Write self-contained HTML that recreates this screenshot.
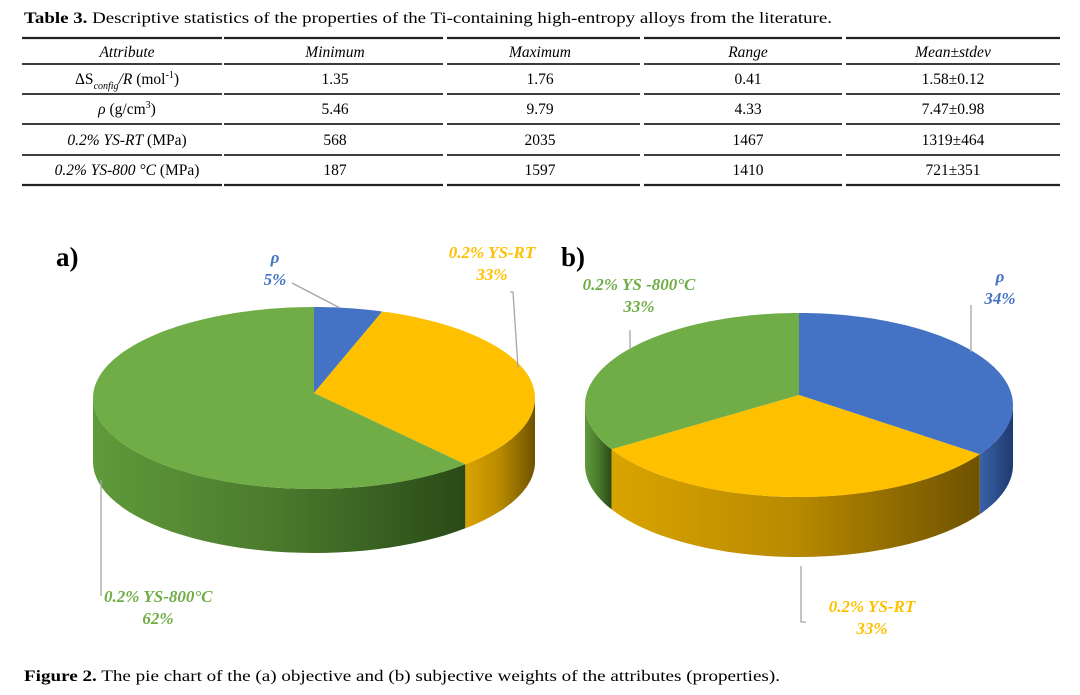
<!DOCTYPE html>
<html><head><meta charset="utf-8">
<style>
html,body{margin:0;padding:0;background:#fff;}
svg{display:block;font-family:"Liberation Serif",serif;}
</style></head>
<body>
<svg id="fig" width="1080" height="695" viewBox="0 0 1080 695" xmlns="http://www.w3.org/2000/svg">
<defs>
 <linearGradient id="gGreen" x1="0" x2="1" y1="0" y2="0"><stop offset="0" stop-color="#5f9a3b"/><stop offset="0.5" stop-color="#4a7a2c"/><stop offset="1" stop-color="#2a4a17"/></linearGradient>
 <linearGradient id="gYellow" x1="0" x2="1" y1="0" y2="0"><stop offset="0" stop-color="#d9a400"/><stop offset="0.5" stop-color="#b88a00"/><stop offset="1" stop-color="#6e5200"/></linearGradient>
 <linearGradient id="gBlue" x1="0" x2="1" y1="0" y2="0"><stop offset="0" stop-color="#3a62a8"/><stop offset="1" stop-color="#1f3a6e"/></linearGradient>
</defs>
<text x="24" y="23" font-size="15.5" textLength="808" lengthAdjust="spacingAndGlyphs"><tspan font-weight="bold">Table 3.</tspan> Descriptive statistics of the properties of the Ti-containing high-entropy alloys from the literature.</text>
<g id="table"></g>
<g id="pieA"></g>
<g id="pieB"></g>
<text x="56" y="266" font-size="27" font-weight="bold">a)</text>
<text x="561" y="266" font-size="27" font-weight="bold">b)</text>
<text x="24" y="681" font-size="16" textLength="756" lengthAdjust="spacingAndGlyphs"><tspan font-weight="bold">Figure 2.</tspan> The pie chart of the (a) objective and (b) subjective weights of the attributes (properties).</text>
</svg>
<script>
const NS="http://www.w3.org/2000/svg";
const tableHeaders=["Attribute","Minimum","Maximum","Range","Mean±stdev"];
const rowMin=["1.35","5.46","568","187"];
const rowMax=["1.76","9.79","2035","1597"];
const rowRange=["0.41","4.33","1467","1410"];
const rowMean=["1.58±0.12","7.47±0.98","1319±464","721±351"];
const pieLabels=["ρ","0.2% YS-RT","0.2% YS-800°C"];
const weightsA=[5,33,62];
const weightsB=[34,33,33];

function mk(tag,attrs,parent){const e=document.createElementNS(NS,tag);for(const k in attrs)e.setAttribute(k,attrs[k]);if(parent)parent.appendChild(e);return e;}

const tb=document.getElementById('table');
const colL=[22,224,447,644,846], colR=[222,443,640,842,1060], colC=[127,335,540,748,953];
const lineY=[38,64,94,124,155,185];
lineY.forEach((y,i)=>{for(let c=0;c<5;c++){const l=mk('line',{x1:colL[c],x2:colR[c],y1:y,y2:y,stroke:'#222','stroke-width':i==0||i==5?2.2:1.8},tb);

}});
tableHeaders.forEach((h,c)=>{const t=mk('text',{x:colC[c],y:57,'font-size':15.5,'text-anchor':'middle','font-style':'italic'},tb);t.textContent=h;

});
const attrHtml=[
 '<tspan>ΔS</tspan><tspan font-size="10" font-style="italic" dy="5">config</tspan><tspan dy="-5" font-style="italic">/R</tspan><tspan> (mol</tspan><tspan font-size="10" dy="-6">-1</tspan><tspan dy="6">)</tspan>',
 '<tspan font-style="italic">ρ</tspan><tspan> (g/cm</tspan><tspan font-size="10" dy="-6">3</tspan><tspan dy="6">)</tspan>',
 '<tspan font-style="italic">0.2% YS-RT</tspan><tspan> (MPa)</tspan>',
 '<tspan font-style="italic">0.2% YS-800 °C</tspan><tspan> (MPa)</tspan>'];
const rowY=[84,114,145,175];
for(let r=0;r<4;r++){
 const t=mk('text',{x:colC[0],y:rowY[r],'font-size':15.5,'text-anchor':'middle'},tb);t.innerHTML=attrHtml[r];
 
 
 [rowMin,rowMax,rowRange,rowMean].forEach((arr,c)=>{const v=mk('text',{x:colC[c+1],y:rowY[r],'font-size':15.5,'text-anchor':'middle'},tb);v.textContent=arr[r];
 
 });
}

const colors=['#4472c4','#ffc000','#70ad47'];
const sideFill=['url(#gBlue)','url(#gYellow)','url(#gGreen)'];
function drawPie(g,weights,cx,cy,rx,ry,depth,vy){
 const tot=weights.reduce((a,b)=>a+b,0);
 const P=(th,dy=0)=>[cx+rx*Math.sin(th),cy-ry*Math.cos(th)+dy];
 let a=0;const segs=weights.map(w=>{const s=a;a+=w/tot*2*Math.PI;return [s,a];});
 segs.forEach(([s,e],i)=>{
  const s2=Math.max(s,Math.PI/2), e2=Math.min(e,1.5*Math.PI);
  if(e2<=s2)return;
  let d='';const n=40;
  for(let k=0;k<=n;k++){const p=P(s2+(e2-s2)*k/n);d+=(k?'L':'M')+p[0].toFixed(1)+','+p[1].toFixed(1);}
  for(let k=n;k>=0;k--){const p=P(s2+(e2-s2)*k/n,depth);d+='L'+p[0].toFixed(1)+','+p[1].toFixed(1);}
  const side=mk('path',{d:d+'Z',fill:sideFill[i]},g);
  
  
 });
 segs.forEach(([s,e],i)=>{
  let d='M'+cx+','+(cy-vy);const n=Math.max(4,Math.ceil((e-s)*30));
  for(let k=0;k<=n;k++){const p=P(s+(e-s)*k/n);d+='L'+p[0].toFixed(1)+','+p[1].toFixed(1);}
  const sl=mk('path',{d:d+'Z',fill:colors[i]},g);
  
  
 });
}
function label(g,x,y,lines,color,anchor){
 lines.forEach((s,k)=>{const t=mk('text',{x:x,y:y+k*22,'font-size':17,'font-weight':'bold','font-style':'italic',fill:color,'text-anchor':anchor||'middle'},g);t.textContent=s;
 
 });
}
function leader(g,d){const l=mk('path',{d:d,stroke:'#a6a6a6','stroke-width':1.3,fill:'none'},g);
 
 }

const gA=document.getElementById('pieA');
drawPie(gA,weightsA,314,398,221,91,64,5);
label(gA,275,263,[pieLabels[0],weightsA[0]+'%'],'#4472c4');
label(gA,492,258,[pieLabels[1],weightsA[1]+'%'],'#ffc000');
label(gA,104,602,[pieLabels[2],weightsA[2]+'%'],'#70ad47','start');
gA.lastChild.setAttribute('x','158');gA.lastChild.setAttribute('text-anchor','middle');
leader(gA,'M292,283 L340,308');
leader(gA,'M510,292 L513,292 L518,368');
leader(gA,'M101,480 L101,596');

const gB=document.getElementById('pieB');
drawPie(gB,weightsB,799,405,214,92,60,10);
label(gB,1000,282,[pieLabels[0],weightsB[0]+'%'],'#4472c4');
label(gB,872,612,[pieLabels[1],weightsB[1]+'%'],'#ffc000');
label(gB,639,290,['0.2% YS -800°C',weightsB[2]+'%'],'#70ad47');
leader(gB,'M971,305 L971,352');
leader(gB,'M630,330 L630,350');
leader(gB,'M801,566 L801,622 L806,622');
</script>
</body></html>
